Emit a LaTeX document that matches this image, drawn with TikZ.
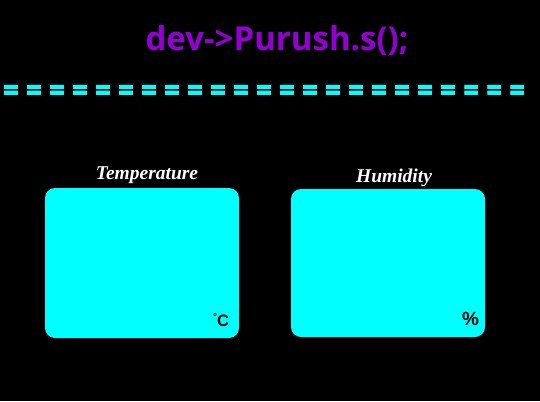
\documentclass[tikz,border=0pt]{standalone}
\usepackage{fontspec}
\setmainfont{Liberation Serif}
\setsansfont{Liberation Sans}
\newfontfamily\titlefont{Open Sans}
\newfontfamily\barfont[FakeBold=4]{DejaVu Sans Bold}
\usetikzlibrary{positioning}
\definecolor{lcdcyan}{RGB}{0,255,255}
\definecolor{devpurple}{RGB}{148,0,211}

\begin{document}
\begin{tikzpicture}[x=1pt, y=-1pt,
    panel/.style={fill=lcdcyan, rounded corners=10pt, minimum width=194pt, minimum height=150pt, inner sep=0pt},
    caption/.style={text=white, inner sep=0pt, font=\fontsize{19.5}{19.5}\selectfont\bfseries\itshape},
    unit/.style={text=black, inner sep=0pt, font=\fontsize{16.5}{16.5}\selectfont\sffamily\bfseries},
    bar/.style={text=lcdcyan, inner sep=0pt, anchor=base, xscale=0.78, font=\barfont\fontsize{26}{26}\selectfont}]
  \fill[black] (0,0) rectangle (540,401);
  \useasboundingbox (0,0) rectangle (540,401);

  \node[text=devpurple, anchor=base, font=\titlefont\fontsize{33}{33}\selectfont\bfseries] (title) at (277,51) {dev->Purush.s();};

  % row of equals signs
  \foreach \i in {0,...,22}
    \node[bar] (eq\i) at (11+23*\i,98) {=};

  \node[panel] (temp) at (142,263) {};
  \node[panel, minimum height=148pt] (hum) at (388,263) {};

  \node[caption, above=4pt of temp, xshift=5pt] (templabel) {Temperature};
  \node[caption, above=2pt of hum, xshift=6pt] (humlabel) {Humidity};

  \node[unit, above left=11pt and 10pt of temp.south east] (tempunit) {\raisebox{6pt}{\fontsize{10}{10}\selectfont °}C};
  \node[unit, above left=11pt and 6pt of hum.south east, font=\fontsize{19}{19}\selectfont\sffamily\bfseries] (humunit) {\%};
\end{tikzpicture}
\end{document}
